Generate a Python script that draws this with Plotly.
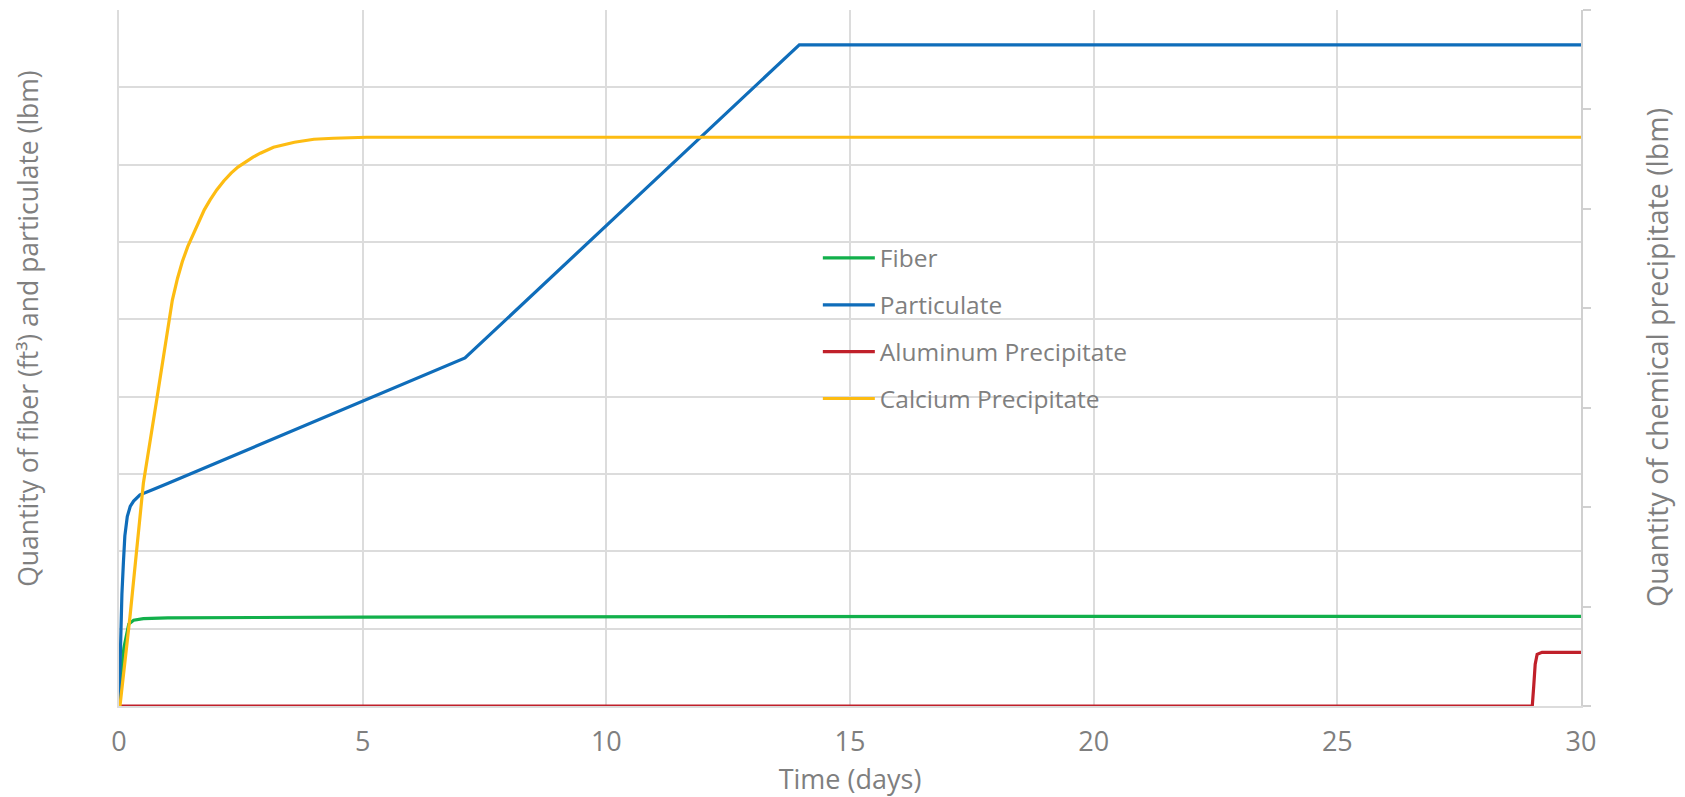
import plotly.graph_objects as go

# ---- data ----
fiber_t = [0, 0.05, 0.1, 0.2, 0.3, 0.5, 1.0, 5.0, 19.0, 30.0]
fiber_v = [0, 0.45, 0.75, 1.06, 1.11, 1.13, 1.14, 1.15, 1.16, 1.16]

part_t = [0, 0.03, 0.06, 0.09, 0.12, 0.17, 0.23, 0.3, 0.43, 0.7, 1.01, 7.1, 13.96, 30.0]
part_v = [0, 0.9, 1.45, 1.85, 2.2, 2.45, 2.58, 2.65, 2.73, 2.8, 2.88, 4.5, 8.55, 8.55]

alu_t = [0, 29.0, 29.03, 29.06, 29.1, 29.2, 30.0]
alu_v = [0, 0, 0.2, 0.42, 0.52, 0.54, 0.54]

cal_t = [0, 0.02, 0.226, 0.5, 0.774, 1.02, 1.094, 1.2, 1.3, 1.41, 1.525, 1.64, 1.75, 1.87, 2.005, 2.15, 2.3, 2.44, 2.586, 2.75, 2.9, 3.17, 3.6, 4.0, 4.4, 5.08, 30.0]
cal_v = [0, 0, 0.90, 2.24, 3.08, 3.89, 4.08, 4.30, 4.47, 4.62, 4.75, 4.88, 4.99, 5.09, 5.19, 5.28, 5.36, 5.42, 5.47, 5.52, 5.56, 5.62, 5.67, 5.70, 5.71, 5.72, 5.72]

series_names = ["Fiber", "Particulate", "Aluminum Precipitate", "Calcium Precipitate"]
colors = ["#12B04B", "#0F6DBA", "#C0202A", "#FDBC12"]

FONT = "Open Sans"
GREY = "#7F7F7F"
GRID = "#DCDCDC"

fig = go.Figure()
data = [(fiber_t, fiber_v, "y"), (part_t, part_v, "y"), (alu_t, alu_v, "y2"), (cal_t, cal_v, "y2")]
for (t, v, ax), name, c in zip(data, series_names, colors):
    fig.add_trace(go.Scatter(x=t, y=v, yaxis=ax, mode="lines", name=name,
                             legendgroup=name,
                             line=dict(color=c, width=3.2)))

fig.update_layout(
    width=1685, height=797,
    margin=dict(l=119, r=104, t=10, b=91),
    paper_bgcolor="white", plot_bgcolor="white",
    font=dict(family=FONT, size=24, color=GREY),
    showlegend=True,
    legend=dict(x=0.478, y=0.676, xanchor="left", yanchor="top",
                bgcolor="rgba(0,0,0,0)", tracegroupgap=12, itemwidth=52,
                font=dict(family=FONT, size=24.5, color=GREY)),
    xaxis=dict(range=[0, 30], dtick=5, tick0=0, showgrid=True, gridcolor=GRID, gridwidth=1.5,
               showline=True, linecolor=GRID, linewidth=1.5, zeroline=False, ticks="",
               ticklabelstandoff=11, automargin=False,
               tickfont=dict(size=27, color=GREY),
               title=dict(text="Time (days)", font=dict(size=27, color=GREY), standoff=12)),
    yaxis=dict(range=[0, 9], dtick=1, showgrid=True, gridcolor=GRID, gridwidth=1.5,
               showline=True, linecolor=GRID, linewidth=1.5, zeroline=False,
               showticklabels=False, ticks="", automargin=False),
    yaxis2=dict(range=[0, 7], dtick=1, overlaying="y", side="right", showgrid=False,
                showline=True, linecolor="#D0D0D0", linewidth=2, zeroline=False, automargin=False,
                showticklabels=False, ticks="outside", ticklen=8, tickcolor="#D0D0D0", tickwidth=2),
    annotations=[
        dict(text="Quantity of fiber (ft³) and particulate (lbm)", textangle=-90,
             xref="paper", yref="paper", x=0, y=0.542, xanchor="center", yanchor="middle",
             xshift=-91, showarrow=False, font=dict(size=26.5, color=GREY)),
        dict(text="Quantity of chemical precipitate (lbm)", textangle=-90,
             xref="paper", yref="paper", x=1, y=0.50, xanchor="center", yanchor="middle",
             xshift=76, showarrow=False, font=dict(size=28.5, color=GREY)),
    ],
)

fig.write_html("out.html")
